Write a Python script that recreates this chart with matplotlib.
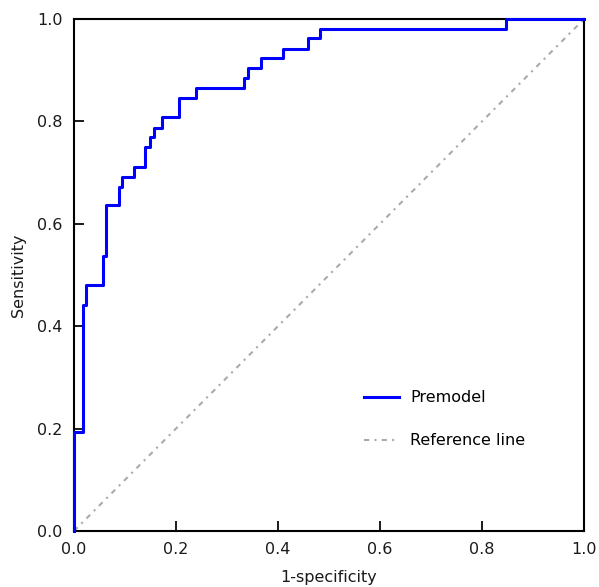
import numpy as np
import matplotlib.pyplot as plt

# x position of each vertical step and the sensitivity reached after it
fpr_steps = [0.0, 0.017, 0.0235, 0.056, 0.062, 0.088, 0.095, 0.118, 0.140, 0.149,
             0.156, 0.172, 0.205, 0.240, 0.334, 0.342, 0.366, 0.410, 0.458, 0.482, 0.847]
tpr_steps = [0.194, 0.442, 0.481, 0.538, 0.636, 0.672, 0.692, 0.711, 0.750, 0.769,
             0.788, 0.808, 0.846, 0.865, 0.885, 0.904, 0.923, 0.942, 0.962, 0.981, 1.0]

ref_x = [0.0, 1.0]
ref_y = [0.0, 1.0]

ticks = [0.0, 0.2, 0.4, 0.6, 0.8, 1.0]
tick_labels = ["0.0", "0.2", "0.4", "0.6", "0.8", "1.0"]


def staircase(xs, ys):
    # vertical first, then horizontal to the next step
    px = [0.0]
    py = [0.0]
    for i in range(len(xs)):
        px.append(xs[i])
        py.append(ys[i])
        nxt = xs[i + 1] if i + 1 < len(xs) else 1.0
        px.append(nxt)
        py.append(ys[i])
    return np.array(px), np.array(py)


plt.rcParams['font.family'] = ['DejaVu Sans']
fig = plt.figure(figsize=(5.99, 5.87), dpi=100)
ax = fig.add_axes([0.1235, 0.0954, 0.8515, 0.8722])

sx, sy = staircase(fpr_steps, tpr_steps)
ax.plot(sx, sy, color='#0000ff', lw=2.2, label='Premodel', zorder=3, clip_on=False)
ax.plot(ref_x, ref_y, color='#aaaaaa', lw=1.5, linestyle=(0, (2.5, 2.5, 1, 2.5)),
        label='Reference line', zorder=2)

ax.set_xlim(0, 1)
ax.set_ylim(0, 1)
ax.set_xticks(ticks)
ax.set_xticklabels(tick_labels)
ax.set_yticks(ticks)
ax.set_yticklabels(tick_labels)
ax.tick_params(direction='in', length=7, width=1.4, labelsize=11.5, pad=8, colors='#1a1a1a')
for s in ax.spines.values():
    s.set_linewidth(1.5)
    s.set_color('black')

ax.set_xlabel('1-specificity', fontsize=11.5, labelpad=9, color='#1a1a1a')
ax.set_ylabel('Sensitivity', fontsize=11.5, labelpad=8, color='#1a1a1a')

ax.legend(loc='center left', bbox_to_anchor=(0.54, 0.218), frameon=False,
          fontsize=11.5, handlelength=2.2, labelspacing=1.75, handletextpad=0.7)

fig.savefig('out.png', dpi=100)
